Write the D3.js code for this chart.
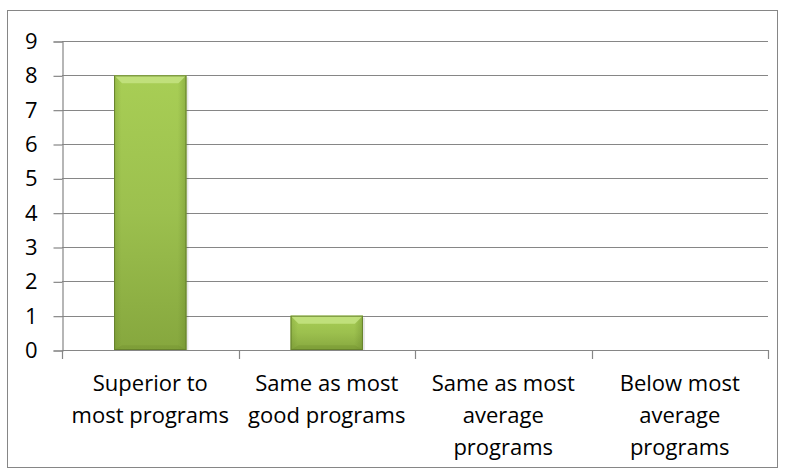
<!DOCTYPE html>
<html>
<head>
<meta charset="utf-8">
<script src="https://cdn.jsdelivr.net/npm/d3@7"></script>
<style>
  body { margin: 0; background: #fff; }
  text { font-family: "Open Sans", "Liberation Sans", sans-serif; fill: #000; }
</style>
</head>
<body>
<svg id="chart" width="785" height="476"></svg>
<script>
var categories = [
  ["Superior to", "most programs"],
  ["Same as most", "good programs"],
  ["Same as most", "average", "programs"],
  ["Below most", "average", "programs"]
];
var values = [8, 1, 0, 0];
var yTicks = [0, 1, 2, 3, 4, 5, 6, 7, 8, 9];

var plotLeft = 62, plotRight = 768, plotTop = 41, plotBottom = 350;

var svg = d3.select("svg#chart");

// outer frame
svg.append("rect")
    .attr("x", 7.5).attr("y", 10.5)
    .attr("width", 770).attr("height", 457)
    .attr("fill", "#fff")
    .attr("stroke", "#868686")
    .attr("stroke-width", 1);

var x = d3.scaleBand()
    .domain(d3.range(categories.length))
    .range([plotLeft, plotRight])
    .paddingInner(0.59)
    .paddingOuter(0.295);

var xb = d3.scaleBand()
    .domain(d3.range(categories.length))
    .range([plotLeft, plotRight]);

var y = d3.scaleLinear().domain([0, 9]).range([plotBottom, plotTop]);

// gridlines
svg.append("g")
  .selectAll("line")
  .data(yTicks.filter(d => d > 0))
  .enter().append("line")
    .attr("x1", plotLeft).attr("x2", plotRight)
    .attr("y1", d => Math.round(y(d)) + 0.5)
    .attr("y2", d => Math.round(y(d)) + 0.5)
    .attr("stroke", "#868686")
    .attr("stroke-width", 1.2);

// y axis
var yAxis = svg.append("g")
    .attr("transform", "translate(" + (plotLeft + 0.5) + ",0.5)")
    .call(d3.axisLeft(y).tickValues(yTicks).tickSize(9).tickPadding(16));
yAxis.select(".domain").attr("stroke", "#868686").attr("stroke-width", 1.2);
yAxis.selectAll(".tick line").attr("stroke", "#868686").attr("stroke-width", 1.2);
yAxis.selectAll(".tick text")
    .attr("font-size", "22px")
    .attr("fill", "#000")
    .style("font-family", "'Open Sans', sans-serif");

// x axis baseline and ticks between categories
var xTickPos = d3.range(categories.length + 1).map(i => i < categories.length ? xb(i) : plotRight);
svg.append("line")
    .attr("x1", plotLeft).attr("x2", plotRight)
    .attr("y1", Math.round(plotBottom) + 0.5).attr("y2", Math.round(plotBottom) + 0.5)
    .attr("stroke", "#868686").attr("stroke-width", 1.2);
svg.append("g")
  .selectAll("line")
  .data(xTickPos)
  .enter().append("line")
    .attr("x1", d => Math.round(d) + 0.5).attr("x2", d => Math.round(d) + 0.5)
    .attr("y1", plotBottom).attr("y2", plotBottom + 9)
    .attr("stroke", "#868686").attr("stroke-width", 1.2);

// bar gradients: body darkens toward the bottom, sides shaded
var defs = svg.append("defs");
var gv = defs.append("linearGradient").attr("id", "barFace")
    .attr("x1", "0").attr("x2", "0").attr("y1", "0").attr("y2", "1");
gv.append("stop").attr("offset", "0").attr("stop-color", "#a8ce55");
gv.append("stop").attr("offset", "0.5").attr("stop-color", "#9cc04e");
gv.append("stop").attr("offset", "1").attr("stop-color", "#86a73e");

var gh = defs.append("linearGradient").attr("id", "barSide")
    .attr("x1", "0").attr("x2", "1").attr("y1", "0").attr("y2", "0");
gh.append("stop").attr("offset", "0").attr("stop-color", "#5f7d25").attr("stop-opacity", 0.25);
gh.append("stop").attr("offset", "0.1").attr("stop-color", "#5f7d25").attr("stop-opacity", 0);
gh.append("stop").attr("offset", "0.88").attr("stop-color", "#5f7d25").attr("stop-opacity", 0);
gh.append("stop").attr("offset", "1").attr("stop-color", "#5f7d25").attr("stop-opacity", 0.35);

var bars = svg.append("g")
  .selectAll("g")
  .data(values.map((v, i) => ({v: v, i: i})).filter(d => d.v > 0))
  .enter().append("g");

var bev = 8;
bars.each(function(d) {
  var g = d3.select(this);
  var x0 = x(d.i), x1 = x(d.i) + x.bandwidth();
  var y0 = y(d.v), y1 = y(0);
  // soft shadow
  g.append("rect")
      .attr("x", x0 + 2).attr("y", y0 + 2)
      .attr("width", x1 - x0).attr("height", y1 - y0 - 2)
      .attr("fill", "#000").attr("opacity", 0.1);
  g.append("rect")
      .attr("x", x0).attr("y", y0)
      .attr("width", x1 - x0).attr("height", y1 - y0)
      .attr("fill", "url(#barFace)");
  g.append("rect")
      .attr("x", x0).attr("y", y0)
      .attr("width", x1 - x0).attr("height", y1 - y0)
      .attr("fill", "url(#barSide)");
  // top bevel
  g.append("polygon")
      .attr("points", [[x0, y0], [x1, y0], [x1 - bev, y0 + bev], [x0 + bev, y0 + bev]].join(" "))
      .attr("fill", "#c3e27f").attr("opacity", 0.9);
  // bottom bevel
  g.append("polygon")
      .attr("points", [[x0, y1], [x1, y1], [x1 - bev, y1 - bev * 0.6], [x0 + bev, y1 - bev * 0.6]].join(" "))
      .attr("fill", "#6f8f2e").attr("opacity", 0.35);
  g.append("rect")
      .attr("x", x0 + 0.5).attr("y", y0 + 0.5)
      .attr("width", x1 - x0 - 1).attr("height", y1 - y0 - 1)
      .attr("fill", "none").attr("stroke", "#66822c").attr("stroke-width", 1);
});

// category labels
var labels = svg.append("g")
  .selectAll("text")
  .data(categories)
  .enter().append("text")
    .attr("text-anchor", "middle")
    .attr("font-size", "22px")
    .attr("x", (d, i) => xb(i) + xb.bandwidth() / 2)
    .attr("y", 391);
labels.selectAll("tspan")
  .data(d => d)
  .enter().append("tspan")
    .attr("x", function() { return d3.select(this.parentNode).attr("x"); })
    .attr("dy", (d, i) => i === 0 ? 0 : 32)
    .text(d => d);
</script>
</body>
</html>
